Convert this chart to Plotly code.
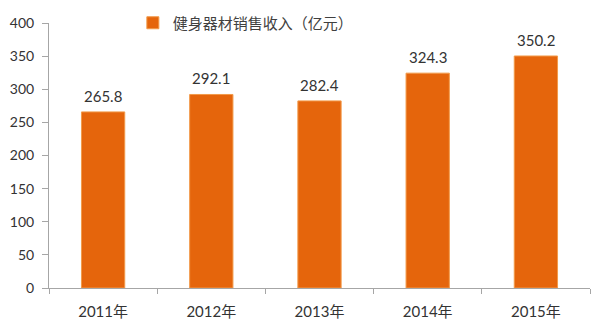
import plotly.graph_objects as go

categories = ["2011年", "2012年", "2013年", "2014年", "2015年"]
values = [265.8, 292.1, 282.4, 324.3, 350.2]
value_labels = ["265.8", "292.1", "282.4", "324.3", "350.2"]
series_name = "健身器材销售收入（亿元）"
y_ticks = [0, 50, 100, 150, 200, 250, 300, 350, 400]

FONT = "Lato, 'Noto Sans CJK SC', sans-serif"

fig = go.Figure()
fig.add_trace(go.Bar(
    x=categories, y=values, name=series_name,
    marker=dict(color="#E5650C", line=dict(color="#F29A4A", width=1)),
    showlegend=True,
))
for c, v, t in zip(categories, values, value_labels):
    fig.add_annotation(x=c, y=v, text=t, showarrow=False, yanchor="bottom", yshift=5,
                       font=dict(size=15, color="#333333", family=FONT))
fig.update_layout(
    width=600, height=330,
    margin=dict(l=49, r=10, t=23, b=42, autoexpand=False),
    paper_bgcolor="white", plot_bgcolor="white",
    bargap=0.6,
    font=dict(family=FONT, size=13, color="#404040"),
    showlegend=True,
    legend=dict(orientation="h", x=0.155, xanchor="left", y=1.0, yanchor="middle",
                font=dict(size=15, color="#404040", family=FONT),
                itemwidth=30, bgcolor="rgba(0,0,0,0)"),
    xaxis=dict(showline=True, linecolor="#A6A6A6", linewidth=1,
               ticks="outside", tickson="boundaries", ticklen=5, tickcolor="#A6A6A6",
               ticklabelstandoff=10,
               showgrid=False, tickfont=dict(size=15, color="#333333")),
    yaxis=dict(range=[0, 400], tickvals=y_ticks, showline=True, linecolor="#A6A6A6",
               linewidth=1, ticks="outside", ticklen=6, tickcolor="#A6A6A6",
               ticklabelstandoff=5,
               showgrid=False, zeroline=False, tickfont=dict(size=14, color="#333333")),
)
fig.write_html("out.html")
